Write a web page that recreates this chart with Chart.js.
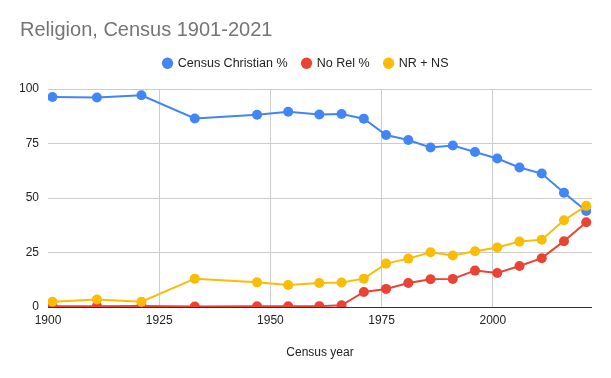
<!DOCTYPE html>
<html>
<head>
<meta charset="utf-8">
<script src="https://cdn.jsdelivr.net/npm/chart.js@4"></script>
<style>
  html, body { margin: 0; padding: 0; background: #fff; }
  #wrap { width: 611px; height: 378px; }
</style>
</head>
<body>
<div id="wrap"><canvas id="religionChart" width="611" height="378"></canvas></div>
<script>
// census years and series
const years      = [1901, 1911, 1921, 1933, 1947, 1954, 1961, 1966, 1971, 1976, 1981, 1986, 1991, 1996, 2001, 2006, 2011, 2016, 2021];
const christian  = [96.3, 96.1, 97.1, 86.5, 88.2, 89.6, 88.3, 88.5, 86.4, 78.9, 76.6, 73.2, 74.1, 71.1, 68.1, 64.0, 61.2, 52.4, 44.0];
const noRel      = [0.4, 0.4, 0.5, 0.2, 0.3, 0.3, 0.4, 0.8, 6.9, 8.3, 11.0, 12.7, 12.9, 16.7, 15.6, 18.8, 22.4, 30.2, 38.9];
const nrPlusNs   = [2.4, 3.4, 2.4, 13.0, 11.3, 10.1, 11.0, 11.2, 13.0, 19.9, 22.2, 25.1, 23.6, 25.6, 27.3, 30.0, 30.9, 39.8, 46.4];
const xTicks     = [1900, 1925, 1950, 1975, 2000];
const yTicks     = [0, 25, 50, 75, 100];

const FONT = 'Arial, "Liberation Sans", sans-serif';
const pts = arr => arr.map((v, i) => ({ x: years[i], y: v }));

function series(label, data, color, order) {
    return {
        label, data: pts(data), order, xAxisID: 'x', yAxisID: 'y',
        borderColor: color, backgroundColor: color,
        pointBackgroundColor: color, pointBorderWidth: 0,
        borderWidth: 2, pointRadius: 5, pointHoverRadius: 5, tension: 0
    };
}

new Chart(document.getElementById('religionChart').getContext('2d'), {
    type: 'line',
    data: {
        datasets: [
            series('Census Christian %', christian, '#4285F4', 3),
            series('No Rel %', noRel, '#EA4335', 2),
            series('NR + NS', nrPlusNs, '#FBBC04', 1)
        ]
    },
    options: {
        responsive: false,
        animation: false,
        layout: { padding: { left: 20, right: 19, top: 0, bottom: 0 } },
        plugins: {
            title: {
                display: true, text: 'Religion, Census 1901-2021', align: 'start',
                color: '#757575', font: { family: FONT, size: 20, weight: 'normal' },
                padding: { top: 18, bottom: 0 }
            },
            legend: {
                labels: {
                    usePointStyle: true, pointStyle: 'circle', boxWidth: 8, boxHeight: 8,
                    color: '#222', font: { family: FONT, size: 12.5 }, padding: 15,
                    sort: (a, b) => a.datasetIndex - b.datasetIndex
                }
            },
            tooltip: { enabled: false }
        },
        scales: {
            x: {
                type: 'linear', min: 1900, max: 2022.3,
                afterBuildTicks: s => { s.ticks = xTicks.map(v => ({ value: v })); },
                afterFit: s => { s.height = 71; },
                grid: {
                    color: c => c.tick && c.tick.value === 1900 ? 'rgba(0,0,0,0)' : '#cccccc',
                    drawTicks: false
                },
                border: { display: false },
                ticks: { color: '#222', font: { family: FONT, size: 12 }, padding: 6, maxRotation: 0, callback: v => String(v) },
                title: { display: true, text: 'Census year', color: '#222', font: { family: FONT, size: 12 }, padding: { top: 0, bottom: 18 } }
            },
            y: {
                min: 0, max: 100,
                afterBuildTicks: s => { s.ticks = yTicks.map(v => ({ value: v })); },
                afterFit: s => { s.width = 28; },
                grid: {
                    color: c => c.tick && c.tick.value === 0 ? '#333333' : '#cccccc',
                    drawTicks: false
                },
                border: { display: false },
                ticks: { color: '#222', font: { family: FONT, size: 12 }, padding: 9 }
            },
            // empty spacer between legend and plot
            gap: {
                type: 'linear', position: 'top', display: true,
                afterFit: s => { s.height = 9.5; },
                grid: { display: false }, border: { display: false }, ticks: { display: false }
            }
        }
    }
});
</script>
</body>
</html>
